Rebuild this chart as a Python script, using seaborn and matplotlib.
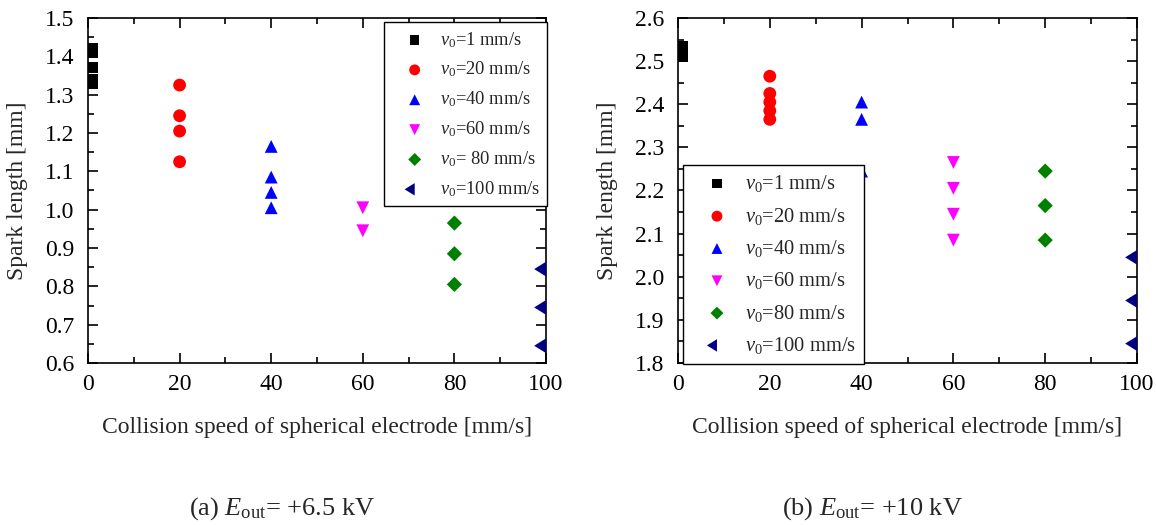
import matplotlib
matplotlib.use("Agg")
import matplotlib.pyplot as plt
import seaborn as sns
import pandas as pd
from matplotlib.ticker import MultipleLocator
from matplotlib.path import Path

sns.set_theme(style="ticks")
plt.rcParams['font.family'] = ['Liberation Serif', 'DejaVu Serif']
plt.rcParams['mathtext.fontset'] = 'custom'
plt.rcParams['mathtext.rm'] = 'Liberation Serif'
plt.rcParams['mathtext.it'] = 'Liberation Serif:italic'

# ---- data ----
speeds = [1, 20, 40, 60, 80, 100]
labels_a = ["$v_0$=1 mm/s", "$v_0$=20 mm/s", "$v_0$=40 mm/s",
            "$v_0$=60 mm/s", "$v_0$= 80 mm/s", "$v_0$=100 mm/s"]
labels_b = ["$v_0$=1 mm/s", "$v_0$=20 mm/s", "$v_0$=40 mm/s",
            "$v_0$=60 mm/s", "$v_0$=80 mm/s", "$v_0$=100 mm/s"]

a_v1 = [1.42, 1.41, 1.37, 1.34, 1.33]
a_v20 = [1.325, 1.245, 1.205, 1.125]
a_v40 = [1.165, 1.085, 1.045, 1.005]
a_v60 = [1.005, 0.945]
a_v80 = [0.965, 0.885, 0.805]
a_v100 = [0.845, 0.745, 0.645]

b_v1 = [2.535, 2.525, 2.515, 2.51]
b_v20 = [2.465, 2.425, 2.405, 2.385, 2.365]
b_v40 = [2.405, 2.365, 2.245]
b_v60 = [2.265, 2.205, 2.145, 2.085]
b_v80 = [2.245, 2.165, 2.085]
b_v100 = [2.045, 1.945, 1.845]

# left-pointing triangle whose base sits on the data point
left_tri = Path([(0, 0.62), (0, -0.62), (-1.0, 0), (0, 0.62)],
                [Path.MOVETO, Path.LINETO, Path.LINETO, Path.CLOSEPOLY])
markers = ['s', 'o', '^', 'v', 'D', left_tri]
colors = ['black', 'red', 'blue', 'magenta', 'green', 'navy']
sizes = [60, 85, 85, 85, 60, 290]

fig = plt.figure(figsize=(11.56, 5.25), dpi=100)
axA = fig.add_axes([88/1156, 1-363/525, 458/1156, 345/525])
axB = fig.add_axes([678/1156, 1-363/525, 459/1156, 345/525])

FS = 17


def draw(ax, series, labels, ylim, ymaj, ymin):
    for sp, vals, lab, m, c, s in zip(speeds, series, labels, markers, colors, sizes):
        df = pd.DataFrame({"x": [sp]*len(vals), "y": vals})
        sns.scatterplot(data=df, x="x", y="y", marker=m, color=c, s=s,
                        edgecolor='none', label=lab, ax=ax, zorder=3)
    ax.set_xlim(0, 100)
    ax.set_ylim(*ylim)
    ax.xaxis.set_major_locator(MultipleLocator(20))
    ax.xaxis.set_minor_locator(MultipleLocator(10))
    ax.yaxis.set_major_locator(MultipleLocator(ymaj))
    ax.yaxis.set_minor_locator(MultipleLocator(ymin))
    ax.tick_params(which='both', direction='in', top=True, right=True,
                   labelsize=FS, colors='black', width=1.2)
    ax.tick_params(which='major', length=7)
    ax.tick_params(which='minor', length=4)
    ax.tick_params(axis='x', pad=8)
    ax.tick_params(axis='y', pad=10)
    for sp_ in ax.spines.values():
        sp_.set_linewidth(1.2)
        sp_.set_color('black')
    ax.yaxis.set_major_formatter(matplotlib.ticker.FormatStrFormatter('%.1f'))
    ax.set_xlabel("Collision speed of spherical electrode [mm/s]", fontsize=FS, labelpad=16)
    ax.set_ylabel("Spark length [mm]", fontsize=FS, labelpad=12)


draw(axA, [a_v1, a_v20, a_v40, a_v60, a_v80, a_v100], labels_a, (0.6, 1.5), 0.1, 0.05)
draw(axB, [b_v1, b_v20, b_v40, b_v60, b_v80, b_v100], labels_b, (1.8, 2.6), 0.1, 0.05)

legA = axA.legend(loc='upper right', bbox_to_anchor=(1.003, 0.987), fontsize=13.3,
                  frameon=True, fancybox=False, framealpha=1, edgecolor='black',
                  borderpad=0.4, labelspacing=0.55, handletextpad=0.1, handlelength=2.5,
                  markerscale=0.85, borderaxespad=0)
legA.get_frame().set_linewidth(1.0)
legB = axB.legend(loc='lower left', bbox_to_anchor=(0.011, -0.003), fontsize=14.8,
                  frameon=True, fancybox=False, framealpha=1, edgecolor='black',
                  borderpad=0.4, labelspacing=0.55, handletextpad=0.1, handlelength=2.5,
                  markerscale=0.85, borderaxespad=0)
legB.get_frame().set_linewidth(1.0)

fig.text(282/1156, 1-509/525, "(a) $E_{\\mathrm{out}}$= +6.5 kV", ha='center', va='center', fontsize=19)
fig.text(872/1156, 1-509/525, "(b) $E_{\\mathrm{out}}$= +10 kV", ha='center', va='center', fontsize=19)

fig.savefig("out.png", dpi=100)
